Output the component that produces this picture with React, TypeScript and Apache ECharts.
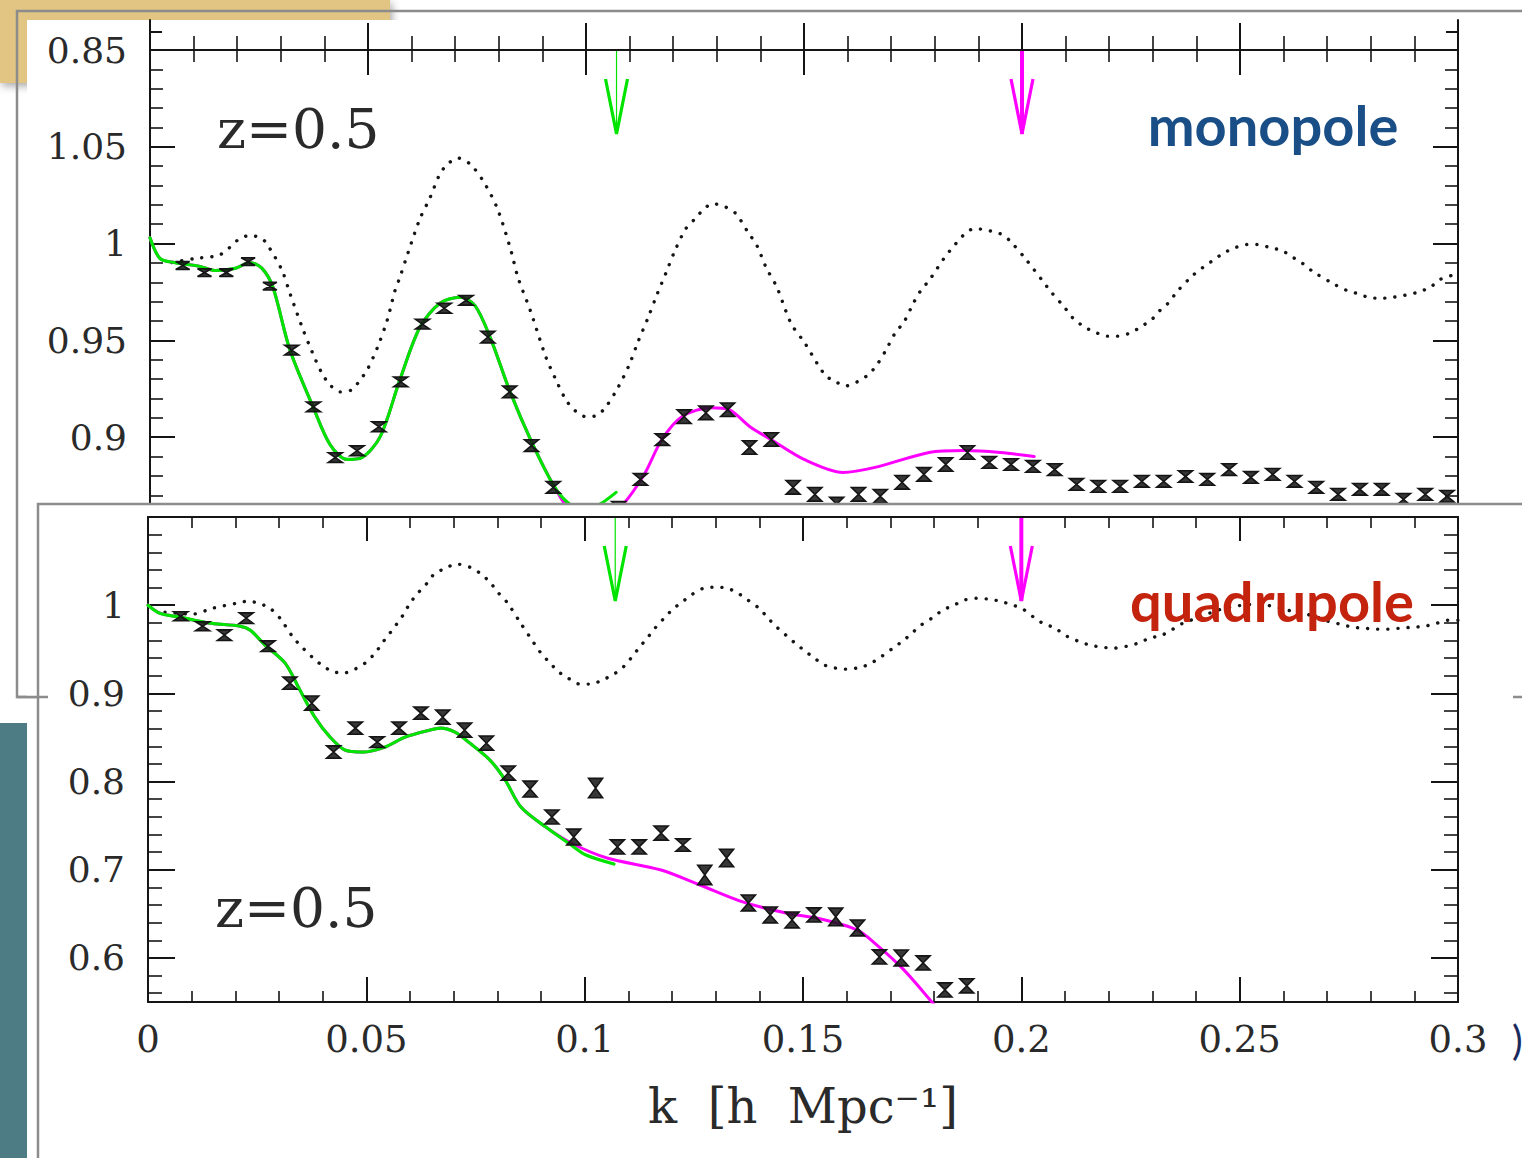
import React, { useEffect, useRef } from "react";
import * as echarts from "echarts";

// ---- data: ratio P(k) / P_smooth(k), z = 0.5 ----

// k bin centres [h/Mpc] of the measured points
const kBins = [
  0.0075, 0.0125, 0.0175, 0.0225, 0.0275, 0.0325, 0.0375, 0.0425, 0.0475, 0.0525,
  0.0575, 0.0625, 0.0675, 0.0725, 0.0775, 0.0825, 0.0875, 0.0925, 0.0975, 0.1025,
  0.1075, 0.1125, 0.1175, 0.1225, 0.1275, 0.1325, 0.1375, 0.1425, 0.1475, 0.1525,
  0.1575, 0.1625, 0.1675, 0.1725, 0.1775, 0.1825, 0.1875, 0.1925, 0.1975, 0.2025,
  0.2075, 0.2125, 0.2175, 0.2225, 0.2275, 0.2325, 0.2375, 0.2425, 0.2475, 0.2525,
  0.2575, 0.2625, 0.2675, 0.2725, 0.2775, 0.2825, 0.2875, 0.2925, 0.2975,
];

// monopole measurements and 1-sigma errors
const monoValues = [
  0.9887, 0.985, 0.985, 0.9907, 0.978, 0.945, 0.9157, 0.8895, 0.893, 0.9054,
  0.9286, 0.9584, 0.9666, 0.9707, 0.9517, 0.9234, 0.8957, 0.8741, 0.858, 0.856,
  0.8638, 0.8782, 0.8988, 0.9106, 0.9126, 0.9142, 0.8947, 0.8988, 0.8741, 0.8705,
  0.8654, 0.8705, 0.8695, 0.8767, 0.8808, 0.8859, 0.8921, 0.887, 0.8859, 0.8849,
  0.8833, 0.8756, 0.8746, 0.8746, 0.8772, 0.8772, 0.8797, 0.8782, 0.8833, 0.8792,
  0.8808, 0.8772, 0.8741, 0.8705, 0.8731, 0.8731, 0.8679, 0.8705, 0.8695,
];
const monoErrors = [
  0.002, 0.002, 0.002, 0.002, 0.002, 0.0025, 0.0025, 0.0025, 0.0025, 0.0025,
  0.0025, 0.0025, 0.0025, 0.0025, 0.003, 0.003, 0.003, 0.003, 0.003, 0.003,
  0.003, 0.003, 0.003, 0.0035, 0.0035, 0.0035, 0.0035, 0.0035, 0.0035, 0.0035,
  0.0035, 0.0035, 0.0035, 0.0035, 0.0035, 0.0035, 0.0035, 0.003, 0.003, 0.003,
  0.003, 0.003, 0.003, 0.003, 0.003, 0.003, 0.003, 0.003, 0.003, 0.003,
  0.003, 0.003, 0.003, 0.003, 0.003, 0.003, 0.003, 0.003, 0.003,
];

// quadrupole measurements (first 37 bins) and errors
const quadValues = [
  0.9875, 0.9762, 0.966, 0.9853, 0.9535, 0.9116, 0.889, 0.8334, 0.8606, 0.8448,
  0.8606, 0.8776, 0.8731, 0.8584, 0.8436, 0.8096, 0.7915, 0.7598, 0.7371, 0.7926,
  0.7258, 0.7258, 0.7416, 0.728, 0.6941, 0.7133, 0.6623, 0.6487, 0.6431, 0.6487,
  0.6465, 0.634, 0.6011, 0.6, 0.5943, 0.5637, 0.5683,
];
const quadErrors = [
  0.005, 0.005, 0.006, 0.006, 0.006, 0.007, 0.008, 0.007, 0.007, 0.006,
  0.007, 0.007, 0.008, 0.008, 0.008, 0.008, 0.009, 0.008, 0.009, 0.011,
  0.008, 0.008, 0.008, 0.007, 0.011, 0.01, 0.009, 0.009, 0.009, 0.008,
  0.01, 0.009, 0.008, 0.009, 0.008, 0.008, 0.008,
];

// linear-theory ratio (dotted), monopole
const monoLinear = [
  [0.005, 0.9902], [0.0103, 0.9923], [0.0161, 0.9943], [0.0206, 1.0026], [0.0229, 1.0041],
  [0.0257, 1.0026], [0.0275, 0.9974], [0.0303, 0.9861], [0.0321, 0.9743], [0.0349, 0.9568],
  [0.0372, 0.944], [0.0394, 0.9332], [0.0413, 0.927], [0.0436, 0.9234], [0.0463, 0.9245],
  [0.0482, 0.9296], [0.0498, 0.9347], [0.0521, 0.946], [0.0544, 0.9604], [0.0562, 0.9758],
  [0.0573, 0.9825], [0.0592, 0.9954], [0.0619, 1.0128], [0.0642, 1.0236], [0.0665, 1.036],
  [0.0683, 1.0411], [0.0706, 1.0442], [0.0734, 1.0411], [0.0764, 1.0324], [0.0796, 1.0185],
  [0.0826, 0.9979], [0.0844, 0.9825], [0.0872, 0.9656], [0.0908, 0.9414], [0.0929, 0.9306],
  [0.0954, 0.9193], [0.0975, 0.9137], [0.1, 0.9106], [0.1023, 0.9111], [0.1044, 0.9152],
  [0.1073, 0.9255], [0.1099, 0.9373], [0.1119, 0.9491], [0.1142, 0.9615], [0.1163, 0.9738],
  [0.1183, 0.9846], [0.1204, 0.9964], [0.1229, 1.0077], [0.125, 1.0128], [0.1271, 1.018],
  [0.1291, 1.0206], [0.1319, 1.019], [0.1344, 1.0154], [0.1372, 1.0057], [0.1392, 0.999],
  [0.1413, 0.9877], [0.1438, 0.9774], [0.147, 0.9589], [0.1502, 0.9486], [0.1548, 0.9322],
  [0.1573, 0.9286], [0.1596, 0.9265], [0.1622, 0.9286], [0.1647, 0.9322], [0.1667, 0.9373],
  [0.1688, 0.945], [0.1709, 0.9538], [0.1729, 0.9594], [0.1752, 0.9697], [0.1768, 0.9758],
  [0.1787, 0.981], [0.1835, 0.9964], [0.1892, 1.0077], [0.195, 1.0051], [0.1972, 1.0015],
  [0.2011, 0.9913], [0.2048, 0.9805], [0.2064, 0.9758], [0.2099, 0.9666], [0.2117, 0.9615],
  [0.2144, 0.9568], [0.2167, 0.9543], [0.2195, 0.9522], [0.2218, 0.9522], [0.2248, 0.9538],
  [0.2271, 0.9568], [0.2298, 0.9609], [0.2317, 0.9656], [0.2335, 0.9692], [0.2358, 0.9758],
  [0.2392, 0.9836], [0.2415, 0.9877], [0.2438, 0.9913], [0.2461, 0.9949], [0.2489, 0.9979],
  [0.2516, 0.9995], [0.2541, 0.9995], [0.2569, 0.9979], [0.2596, 0.9964], [0.2622, 0.9928],
  [0.2644, 0.9897], [0.2667, 0.9856], [0.2713, 0.9794], [0.2745, 0.9758], [0.2768, 0.9743],
  [0.2794, 0.9723], [0.2821, 0.9717], [0.2851, 0.9723], [0.2878, 0.9733], [0.2906, 0.9748],
  [0.2936, 0.9774], [0.2959, 0.9815], [0.2986, 0.9836],
];

// model fit up to k_max = 0.2 (magenta), monopole
const monoFitWide = [
  [0, 1.003], [0.0023, 0.9923], [0.0057, 0.9902], [0.0115, 0.9882], [0.0149, 0.9861],
  [0.0195, 0.9872], [0.0229, 0.9902], [0.0257, 0.9872], [0.0282, 0.9774], [0.0321, 0.945],
  [0.0374, 0.9157], [0.0413, 0.8962], [0.0452, 0.8885], [0.0486, 0.8895], [0.0528, 0.9003],
  [0.0573, 0.9296], [0.0619, 0.9568], [0.0665, 0.9692], [0.0711, 0.9723], [0.0745, 0.9681],
  [0.078, 0.9517], [0.0826, 0.9234], [0.0876, 0.8972], [0.0927, 0.8746], [0.0963, 0.8625],
  [0.1009, 0.8587], [0.1073, 0.8628], [0.1131, 0.8798], [0.1174, 0.8988], [0.122, 0.9106],
  [0.1287, 0.9152], [0.1328, 0.9142], [0.1376, 0.9054], [0.1424, 0.8988], [0.15, 0.8885],
  [0.1589, 0.8818], [0.1663, 0.8844], [0.1787, 0.8921], [0.1867, 0.8931], [0.195, 0.8921],
  [0.2028, 0.89],
];

// model fit up to k_max = 0.107 (green), monopole
const monoFitNarrow = [
  [0, 1.003], [0.0023, 0.9923], [0.0057, 0.9902], [0.0115, 0.9882], [0.0149, 0.9861],
  [0.0195, 0.9872], [0.0229, 0.9902], [0.0257, 0.9872], [0.0282, 0.9774], [0.0321, 0.945],
  [0.0374, 0.9157], [0.0413, 0.8962], [0.0452, 0.8885], [0.0486, 0.8895], [0.0528, 0.9003],
  [0.0573, 0.9296], [0.0619, 0.9568], [0.0665, 0.9692], [0.0711, 0.9723], [0.0745, 0.9681],
  [0.078, 0.9517], [0.0826, 0.9234], [0.0876, 0.8972], [0.0927, 0.8746], [0.0963, 0.8654],
  [0.1, 0.8628], [0.1032, 0.8654], [0.1069, 0.8715],
];

// linear-theory ratio (dotted), quadrupole
const quadLinear = [
  [0.0039, 0.9921], [0.0101, 0.9898], [0.0149, 0.9966], [0.0204, 1.0023], [0.0229, 1.0045],
  [0.0252, 1.0023], [0.0279, 0.9966], [0.0302, 0.9853], [0.0332, 0.9637], [0.0355, 0.9513],
  [0.0376, 0.9411], [0.0398, 0.932], [0.0421, 0.9252], [0.0447, 0.9229], [0.0474, 0.9275],
  [0.0497, 0.9343], [0.052, 0.9456], [0.0538, 0.9581], [0.0554, 0.9683], [0.0584, 0.9887],
  [0.06, 1.0023], [0.0618, 1.0136], [0.0639, 1.0249], [0.0653, 1.034], [0.068, 1.0419],
  [0.0708, 1.0465], [0.0737, 1.0431], [0.076, 1.0363], [0.0783, 1.0261], [0.0801, 1.0147],
  [0.0822, 1.0034], [0.0852, 0.9807], [0.0884, 0.9569], [0.09, 0.9456], [0.0921, 0.9343],
  [0.0941, 0.9241], [0.0962, 0.9173], [0.0989, 0.9105], [0.1014, 0.9105], [0.104, 0.915],
  [0.1067, 0.9218], [0.1088, 0.9297], [0.1108, 0.9411], [0.1124, 0.9513], [0.1145, 0.9637],
  [0.1161, 0.9739], [0.1182, 0.9853], [0.1202, 0.9955], [0.1223, 1.0034], [0.1243, 1.0113],
  [0.1273, 1.0193], [0.1301, 1.0204], [0.1326, 1.0193], [0.1351, 1.0136], [0.1374, 1.0057],
  [0.1399, 0.9966], [0.142, 0.9853], [0.144, 0.9751], [0.1461, 0.966], [0.1482, 0.9569],
  [0.1502, 0.949], [0.1523, 0.9411], [0.155, 0.932], [0.1575, 0.9286], [0.1598, 0.9275],
  [0.1633, 0.9297], [0.1656, 0.9343], [0.1681, 0.9422], [0.1706, 0.9513], [0.1731, 0.9603],
  [0.1752, 0.9694], [0.177, 0.9773], [0.1795, 0.9853], [0.182, 0.9943], [0.1846, 1.0],
  [0.1869, 1.0057], [0.1898, 1.0079], [0.1926, 1.0068], [0.1951, 1.0045], [0.1981, 1.0],
  [0.2004, 0.9955], [0.2031, 0.9853], [0.2049, 0.9796], [0.2077, 0.9739], [0.2104, 0.9649],
  [0.213, 0.9592], [0.2157, 0.9547], [0.2185, 0.9524], [0.221, 0.9513], [0.2242, 0.9535],
  [0.2267, 0.9569], [0.2294, 0.9626], [0.2322, 0.966], [0.2347, 0.9728], [0.237, 0.9796],
  [0.2402, 0.9853], [0.2425, 0.9898], [0.245, 0.9943], [0.2478, 0.9977], [0.2507, 1.0],
  [0.2535, 1.0011], [0.2562, 1.0], [0.2592, 0.9966], [0.262, 0.9932], [0.2645, 0.9909],
  [0.2677, 0.9864], [0.2702, 0.9819], [0.273, 0.9785], [0.2759, 0.9751], [0.2787, 0.9739],
  [0.2814, 0.9728], [0.2839, 0.9728], [0.2867, 0.9739], [0.2897, 0.9751], [0.2924, 0.9762],
  [0.2952, 0.9796], [0.2977, 0.983], [0.3, 0.983],
];

// model fit up to k_max = 0.2 (magenta), quadrupole
const quadFitWide = [
  [0, 1.0], [0.0027, 0.9909], [0.0073, 0.9864], [0.0142, 0.9796], [0.0211, 0.9762],
  [0.0234, 0.9717], [0.0268, 0.9547], [0.0314, 0.9343], [0.0348, 0.9037], [0.0382, 0.8731],
  [0.0417, 0.8504], [0.0451, 0.8357], [0.0492, 0.8334], [0.0543, 0.8391], [0.0589, 0.8504],
  [0.0646, 0.8584], [0.0669, 0.8606], [0.0703, 0.8561], [0.0737, 0.8436], [0.0783, 0.8244],
  [0.0818, 0.8017], [0.0854, 0.7711], [0.0911, 0.7484], [0.0969, 0.7303], [0.1051, 0.7133],
  [0.1175, 0.6997], [0.1264, 0.6827], [0.1362, 0.6635], [0.1461, 0.651], [0.1541, 0.6442],
  [0.1624, 0.6317], [0.1674, 0.6125], [0.1731, 0.5864], [0.1795, 0.5501], [0.1814, 0.539],
];

// model fit up to k_max = 0.107 (green), quadrupole
const quadFitNarrow = [
  [0, 1.0], [0.0027, 0.9909], [0.0073, 0.9864], [0.0142, 0.9796], [0.0211, 0.9762],
  [0.0234, 0.9717], [0.0268, 0.9547], [0.0314, 0.9343], [0.0348, 0.9037], [0.0382, 0.8731],
  [0.0417, 0.8504], [0.0451, 0.8357], [0.0492, 0.8334], [0.0543, 0.8391], [0.0589, 0.8504],
  [0.0646, 0.8584], [0.0669, 0.8606], [0.0703, 0.8561], [0.0737, 0.8436], [0.0783, 0.8244],
  [0.0818, 0.8017], [0.0854, 0.7711], [0.0911, 0.7484], [0.0969, 0.728], [0.1003, 0.7167],
  [0.1067, 0.7065],
];

// k_max of the two fits, marked by arrows
const fitKmax = [0.107, 0.2];

// tick values
const kAxisTicks = { min: 0, max: 0.3, step: 0.05 };
const quadLabelTicks = [0.6, 0.7, 0.8, 0.9, 1];
const quadMinorTicks = [
  0.56, 0.58, 0.62, 0.64, 0.66, 0.68, 0.72, 0.74, 0.76, 0.78, 0.82,
  0.84, 0.86, 0.88, 0.92, 0.94, 0.96, 0.98, 1.02, 1.04, 1.06, 1.08,
];

// ---- styling ----
const INK = "#151515";
const SERIF = "DejaVu Serif";
const GREEN = "#00e400";
const MAGENTA = "#ff00ff";
const FRAME = "#8c8c8c";
const arrowColors = [GREEN, MAGENTA];
const arrowShaftWidths = [1.2, 4];

const labelStyle = { fontFamily: SERIF, fontSize: 36, color: "#2a2a2a" };

function kAxis(gridIndex: number, position: string, major: number, minor: number, z: number, extra: any = {}) {
  return {
    type: "value",
    gridIndex,
    position,
    min: kAxisTicks.min,
    max: kAxisTicks.max,
    interval: kAxisTicks.step,
    z,
    axisLine: { show: true, onZero: false, lineStyle: { color: INK, width: 2 } },
    axisTick: { show: true, inside: true, length: major, lineStyle: { color: INK, width: 2 } },
    minorTick: { show: true, splitNumber: 5, length: minor, lineStyle: { color: INK, width: 1.6 } },
    splitLine: { show: false },
    minorSplitLine: { show: false },
    axisLabel: { show: false },
    ...extra,
  };
}

function ratioAxis(gridIndex: number, position: string, min: number, max: number, z: number, extra: any = {}) {
  return {
    type: "value",
    gridIndex,
    position,
    min,
    max,
    z,
    axisLine: { show: true, onZero: false, lineStyle: { color: INK, width: 2 } },
    axisTick: { show: false },
    splitLine: { show: false },
    minorSplitLine: { show: false },
    axisLabel: { show: false },
    ...extra,
  };
}

function curve(data: number[][], xi: number, yi: number, color: string, width: number, z: number, dash: any = "solid") {
  return {
    type: "line",
    xAxisIndex: xi,
    yAxisIndex: yi,
    data,
    symbol: "none",
    showSymbol: false,
    smooth: 0.3,
    silent: true,
    z,
    lineStyle: { color, width, type: dash, cap: "round", join: "round" },
  };
}

function errorPoints(ks: number[], vs: number[], es: number[], xi: number, yi: number, z: number) {
  return {
    type: "custom",
    xAxisIndex: xi,
    yAxisIndex: yi,
    z,
    silent: true,
    data: vs.map((v, i) => [ks[i], v, es[i]]),
    encode: { x: 0, y: 1 },
    renderItem: (_params: any, api: any) => {
      const k = api.value(0);
      const v = api.value(1);
      const e = api.value(2);
      const hi = api.coord([k, v + e]);
      const lo = api.coord([k, v - e]);
      const w = 7;
      return {
        type: "polygon",
        shape: {
          points: [
            [hi[0] - w, hi[1]],
            [hi[0] + w, hi[1]],
            [lo[0] - w, lo[1]],
            [lo[0] + w, lo[1]],
          ],
        },
        style: { fill: "rgba(20,20,20,0.85)", stroke: INK, lineWidth: 1.6 },
      };
    },
  };
}

function kmaxArrows(xi: number, yi: number, top: number, z: number) {
  return {
    type: "custom",
    xAxisIndex: xi,
    yAxisIndex: yi,
    z,
    silent: true,
    data: fitKmax.map((k) => [k, top]),
    encode: { x: 0, y: 1 },
    renderItem: (params: any, api: any) => {
      const p = api.coord([api.value(0), api.value(1)]);
      const x = p[0];
      const y0 = p[1];
      const tip = y0 + 84;
      const wing = y0 + 29;
      const color = arrowColors[params.dataIndex];
      return {
        type: "group",
        children: [
          {
            type: "line",
            shape: { x1: x, y1: y0 + 1, x2: x, y2: tip },
            style: { stroke: color, lineWidth: arrowShaftWidths[params.dataIndex] },
          },
          {
            type: "polyline",
            shape: { points: [[x - 11, wing], [x, tip], [x + 11, wing]] },
            style: { stroke: color, lineWidth: 3.2, fill: "none" },
          },
        ],
      };
    },
  };
}

export default function App() {
  const ref = useRef<HTMLDivElement>(null);

  useEffect(() => {
    if (!ref.current) return;
    document.body.style.margin = "0";
    const chart = echarts.init(ref.current, undefined, { renderer: "svg" });

    const option: any = {
      animation: false,
      backgroundColor: "#ffffff",
      textStyle: { fontFamily: SERIF },
      grid: [
        { left: 150, top: 20, width: 1308, height: 30 },
        { left: 150, top: 50, width: 1308, height: 484 },
        { left: 148, top: 517, width: 1310, height: 485 },
      ],
      xAxis: [
        kAxis(0, "bottom", 27, 14, 10),
        kAxis(1, "top", 25, 12, 10),
        kAxis(2, "top", 24, 11, 30),
        kAxis(2, "bottom", 25, 11, 30, {
          axisLabel: { show: true, showMinLabel: true, showMaxLabel: true, margin: 19, ...labelStyle, fontSize: 37 },
          name: "k  [h  Mpc⁻¹]",
          nameLocation: "middle",
          nameGap: 80,
          nameTextStyle: { fontFamily: SERIF, fontSize: 48, color: "#2a2a2a" },
        }),
      ],
      yAxis: [
        // strip of the panel above
        ratioAxis(0, "left", 0.85, 0.866, 10, {
          axisLabel: { show: true, customValues: [0.85], margin: 23, ...labelStyle },
          axisTick: { show: true, inside: true, length: 12, customValues: [0.86], lineStyle: { color: INK, width: 2 } },
        }),
        ratioAxis(0, "right", 0.85, 0.866, 10, {
          axisTick: { show: true, inside: true, length: 12, customValues: [0.86], lineStyle: { color: INK, width: 2 } },
        }),
        // monopole panel
        ratioAxis(1, "left", 0.85, 1.1, 10, {
          interval: 0.05,
          axisLabel: { show: true, showMinLabel: false, showMaxLabel: false, margin: 23, ...labelStyle },
          axisTick: { show: true, inside: true, length: 25, lineStyle: { color: INK, width: 2 } },
          minorTick: { show: true, splitNumber: 5, length: 13, lineStyle: { color: INK, width: 1.6 } },
        }),
        ratioAxis(1, "right", 0.85, 1.1, 10, {
          interval: 0.05,
          axisTick: { show: true, inside: true, length: 25, lineStyle: { color: INK, width: 2 } },
          minorTick: { show: true, splitNumber: 5, length: 13, lineStyle: { color: INK, width: 1.6 } },
        }),
        // quadrupole panel
        ratioAxis(2, "left", 0.55, 1.1, 30, {
          axisLabel: { show: true, customValues: quadLabelTicks, margin: 23, ...labelStyle },
          axisTick: { show: true, inside: true, length: 27, customValues: quadLabelTicks, lineStyle: { color: INK, width: 2 } },
        }),
        ratioAxis(2, "left", 0.55, 1.1, 30, {
          axisLine: { show: false, onZero: false },
          axisTick: { show: true, inside: true, length: 14, customValues: quadMinorTicks, lineStyle: { color: INK, width: 1.6 } },
        }),
        ratioAxis(2, "right", 0.55, 1.1, 30, {
          axisTick: { show: true, inside: true, length: 27, customValues: quadLabelTicks, lineStyle: { color: INK, width: 2 } },
        }),
        ratioAxis(2, "right", 0.55, 1.1, 30, {
          axisLine: { show: false, onZero: false },
          axisTick: { show: true, inside: true, length: 14, customValues: quadMinorTicks, lineStyle: { color: INK, width: 1.6 } },
        }),
      ],
      series: [
        curve(monoLinear, 1, 2, INK, 3.4, 11, [0.1, 10]),
        curve(monoFitWide, 1, 2, MAGENTA, 3, 12),
        curve(monoFitNarrow, 1, 2, GREEN, 3.2, 13),
        errorPoints(kBins, monoValues, monoErrors, 1, 2, 14),
        kmaxArrows(1, 2, 1.1, 14),

        curve(quadLinear, 3, 4, INK, 3.4, 31, [0.1, 10]),
        curve(quadFitWide, 3, 4, MAGENTA, 3, 32),
        curve(quadFitNarrow, 3, 4, GREEN, 3.2, 33),
        errorPoints(kBins, quadValues, quadErrors, 3, 4, 34),
        kmaxArrows(2, 4, 1.1, 34),
      ],
      graphic: {
        elements: [
          {
            type: "rect",
            z: 0,
            shape: { x: 0, y: 0, width: 390, height: 83 },
            style: {
              fill: "#e2c582",
              shadowBlur: 8,
              shadowColor: "rgba(0,0,0,0.35)",
              shadowOffsetX: 2,
              shadowOffsetY: 3,
            },
          },
          {
            type: "rect",
            z: 1,
            shape: { x: 17, y: 11, width: 1600, height: 686 },
            style: { fill: "none", stroke: FRAME, lineWidth: 2.5 },
          },
          {
            type: "rect",
            z: 2,
            shape: { x: 27, y: 20, width: 1495, height: 676 },
            style: { fill: "#ffffff" },
          },
          {
            type: "rect",
            z: 2,
            shape: { x: 0, y: 723, width: 27, height: 435 },
            style: { fill: "#4e7c84" },
          },
          {
            type: "rect",
            z: 20,
            shape: { x: 38, y: 504, width: 1600, height: 700 },
            style: { fill: "#ffffff", stroke: FRAME, lineWidth: 2.5 },
          },
          {
            type: "line",
            z: 21,
            shape: { x1: 17, y1: 697, x2: 1522, y2: 697 },
            style: { stroke: FRAME, lineWidth: 2.5 },
          },
          {
            type: "rect",
            z: 22,
            shape: { x: 48, y: 506, width: 1465, height: 652 },
            style: { fill: "#ffffff" },
          },
          {
            type: "text",
            z: 40,
            x: 217,
            y: 129,
            style: { text: "z=0.5", fontFamily: SERIF, fontSize: 55, fill: "#2a2a2a", align: "left", verticalAlign: "middle" },
          },
          {
            type: "text",
            z: 40,
            x: 215,
            y: 908,
            style: { text: "z=0.5", fontFamily: SERIF, fontSize: 55, fill: "#2a2a2a", align: "left", verticalAlign: "middle" },
          },
          {
            type: "text",
            z: 40,
            x: 1273,
            y: 124,
            style: { text: "monopole", fontFamily: "Lato", fontWeight: "bold", fontSize: 56, fill: "#1a4e86", align: "center", verticalAlign: "middle" },
          },
          {
            type: "text",
            z: 40,
            x: 1272,
            y: 600,
            style: { text: "quadrupole", fontFamily: "Lato", fontWeight: "bold", fontSize: 56, fill: "#c4230e", align: "center", verticalAlign: "middle" },
          },
          {
            type: "text",
            z: 40,
            x: 1512,
            y: 1040,
            style: { text: ")", fontFamily: "Lato", fontSize: 40, fill: "#1b2a5c", align: "left", verticalAlign: "middle" },
          },
        ],
      },
    };

    chart.setOption(option);
    return () => chart.dispose();
  }, []);

  return (
    <div
      ref={ref}
      style={{ position: "absolute", left: 0, top: 0, width: 1522, height: 1158, background: "#fff" }}
    />
  );
}
